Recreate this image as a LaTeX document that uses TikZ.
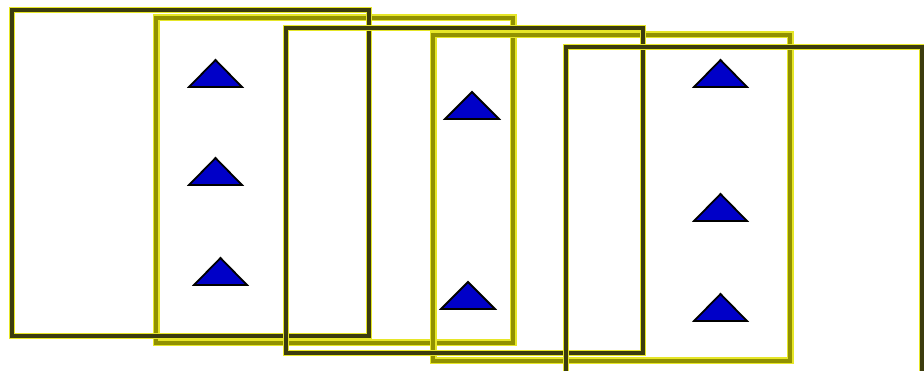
\documentclass[tikz,border=0pt]{standalone}
\definecolor{darkline}{RGB}{60,60,14}
\definecolor{glow}{RGB}{230,230,40}
\definecolor{olivecore}{RGB}{145,145,0}
\definecolor{triblue}{RGB}{0,0,200}
\tikzset{
  darkbox/.style={draw=darkline, line width=3.2pt, preaction={draw=glow, line width=5.5pt}},
  yellowbox/.style={draw=olivecore, line width=4pt, preaction={draw=glow, line width=7pt}},
  tri/.style={fill=triblue, draw=black, line width=1.8pt, line join=miter}
}
\newcommand{\mytri}[3]{% left x, right x, base y ; apex at top
  \draw[tri] (#1,#3) -- ({(#1+#2)/2},{#3-27}) -- (#2,#3) -- cycle;}
\begin{document}
\begin{tikzpicture}[x=1pt,y=-1pt]
\useasboundingbox (0,0) rectangle (924,371);
\fill[white] (0,0) rectangle (924,371);
% yellow boxes
\draw[yellowbox] (156,18) rectangle (513,343);
\draw[yellowbox] (433,35) rectangle (790,361);
% dark boxes
\draw[darkbox] (12,10) rectangle (369,336);
\draw[darkbox] (286,28) rectangle (643,353);
\draw[darkbox] (566,47) rectangle (922,374);
% triangles, group A
\mytri{189}{242}{87}
\mytri{189}{242}{185}
\mytri{194}{247}{285}
% group B
\mytri{445}{499}{119}
\mytri{441}{495}{309}
% group C
\mytri{694}{747}{87}
\mytri{694}{747}{221}
\mytri{694}{747}{321}
\end{tikzpicture}
\end{document}
